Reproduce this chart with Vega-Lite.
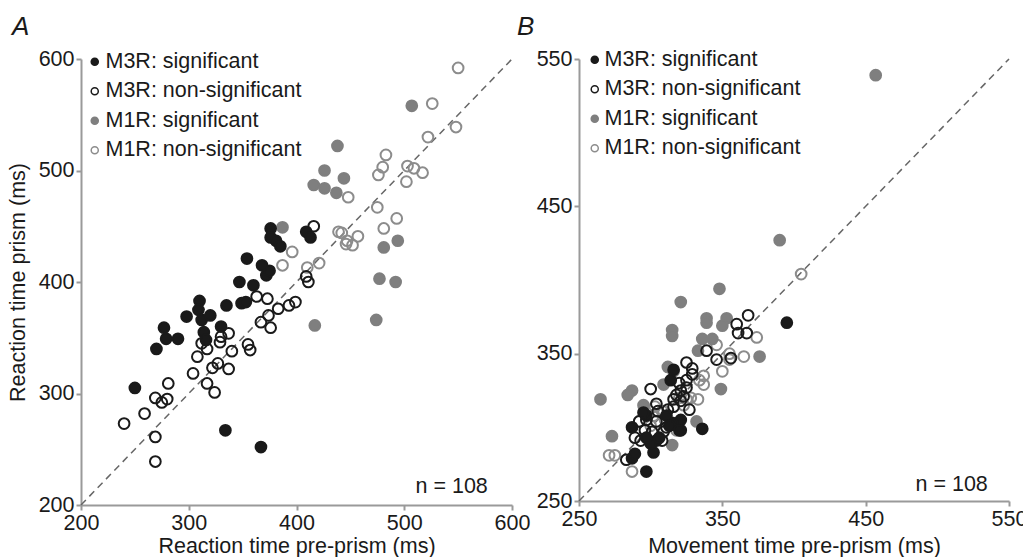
{
  "$schema": "https://vega.github.io/schema/vega-lite/v6.json",
  "background": "white",
  "padding": {"left": 7, "top": 14, "right": 5, "bottom": 0},
  "bounds": "flush",
  "spacing": 67,
  "config": {
    "font": "Liberation Sans",
    "view": {"stroke": null},
    "axis": {"domainColor": "#9a9a9a", "domainWidth": 2, "tickColor": "#9a9a9a", "tickWidth": 2, "tickSize": 5, "labelFontSize": 21.5, "labelColor": "#1a1a1a", "titleFontSize": 21.5, "titleFontWeight": "normal", "titleColor": "#1a1a1a", "grid": false, "labelPadding": 2, "labelFlush": false, "labelOverlap": false},
    "legend": {"orient": "none", "padding": 0, "labelFontSize": 21.5, "labelColor": "#1a1a1a", "labelLimit": 600, "symbolSize": 50, "symbolStrokeWidth": 1.5, "rowPadding": 6.5, "title": null},
    "title": {"anchor": "start", "fontSize": 26, "fontStyle": "italic", "fontWeight": "normal", "color": "#1a1a1a", "frame": "group"}
  },
  "datasets": {
    "A": [
      {"x": 550, "y": 592, "g": "M1R: non-significant"},
      {"x": 526, "y": 560, "g": "M1R: non-significant"},
      {"x": 548, "y": 539, "g": "M1R: non-significant"},
      {"x": 522, "y": 530, "g": "M1R: non-significant"},
      {"x": 483, "y": 514, "g": "M1R: non-significant"},
      {"x": 480, "y": 503, "g": "M1R: non-significant"},
      {"x": 476, "y": 496, "g": "M1R: non-significant"},
      {"x": 503, "y": 504, "g": "M1R: non-significant"},
      {"x": 509, "y": 502, "g": "M1R: non-significant"},
      {"x": 517, "y": 498, "g": "M1R: non-significant"},
      {"x": 502, "y": 490, "g": "M1R: non-significant"},
      {"x": 448, "y": 476, "g": "M1R: non-significant"},
      {"x": 475, "y": 467, "g": "M1R: non-significant"},
      {"x": 493, "y": 457, "g": "M1R: non-significant"},
      {"x": 481, "y": 448, "g": "M1R: non-significant"},
      {"x": 439, "y": 445, "g": "M1R: non-significant"},
      {"x": 442, "y": 444, "g": "M1R: non-significant"},
      {"x": 447, "y": 437, "g": "M1R: non-significant"},
      {"x": 452, "y": 433, "g": "M1R: non-significant"},
      {"x": 457, "y": 441, "g": "M1R: non-significant"},
      {"x": 446, "y": 434, "g": "M1R: non-significant"},
      {"x": 396, "y": 427, "g": "M1R: non-significant"},
      {"x": 387, "y": 415, "g": "M1R: non-significant"},
      {"x": 421, "y": 417, "g": "M1R: non-significant"},
      {"x": 410, "y": 413, "g": "M1R: non-significant"},
      {"x": 438, "y": 522, "g": "M1R: significant"},
      {"x": 426, "y": 500, "g": "M1R: significant"},
      {"x": 444, "y": 493, "g": "M1R: significant"},
      {"x": 416, "y": 487, "g": "M1R: significant"},
      {"x": 426, "y": 484, "g": "M1R: significant"},
      {"x": 437, "y": 480, "g": "M1R: significant"},
      {"x": 387, "y": 449, "g": "M1R: significant"},
      {"x": 507, "y": 558, "g": "M1R: significant"},
      {"x": 481, "y": 431, "g": "M1R: significant"},
      {"x": 494, "y": 437, "g": "M1R: significant"},
      {"x": 477, "y": 403, "g": "M1R: significant"},
      {"x": 492, "y": 400, "g": "M1R: significant"},
      {"x": 474, "y": 366, "g": "M1R: significant"},
      {"x": 417, "y": 361, "g": "M1R: significant"},
      {"x": 240, "y": 273, "g": "M3R: non-significant"},
      {"x": 259, "y": 282, "g": "M3R: non-significant"},
      {"x": 269, "y": 261, "g": "M3R: non-significant"},
      {"x": 269, "y": 239, "g": "M3R: non-significant"},
      {"x": 269, "y": 296, "g": "M3R: non-significant"},
      {"x": 275, "y": 292, "g": "M3R: non-significant"},
      {"x": 280, "y": 295, "g": "M3R: non-significant"},
      {"x": 281, "y": 309, "g": "M3R: non-significant"},
      {"x": 304, "y": 318, "g": "M3R: non-significant"},
      {"x": 308, "y": 333, "g": "M3R: non-significant"},
      {"x": 317, "y": 309, "g": "M3R: non-significant"},
      {"x": 317, "y": 340, "g": "M3R: non-significant"},
      {"x": 324, "y": 301, "g": "M3R: non-significant"},
      {"x": 322, "y": 323, "g": "M3R: non-significant"},
      {"x": 327, "y": 327, "g": "M3R: non-significant"},
      {"x": 337, "y": 322, "g": "M3R: non-significant"},
      {"x": 329, "y": 346, "g": "M3R: non-significant"},
      {"x": 337, "y": 354, "g": "M3R: non-significant"},
      {"x": 340, "y": 338, "g": "M3R: non-significant"},
      {"x": 355, "y": 344, "g": "M3R: non-significant"},
      {"x": 357, "y": 339, "g": "M3R: non-significant"},
      {"x": 363, "y": 387, "g": "M3R: non-significant"},
      {"x": 367, "y": 364, "g": "M3R: non-significant"},
      {"x": 373, "y": 385, "g": "M3R: non-significant"},
      {"x": 376, "y": 359, "g": "M3R: non-significant"},
      {"x": 374, "y": 370, "g": "M3R: non-significant"},
      {"x": 383, "y": 376, "g": "M3R: non-significant"},
      {"x": 393, "y": 379, "g": "M3R: non-significant"},
      {"x": 399, "y": 382, "g": "M3R: non-significant"},
      {"x": 409, "y": 405, "g": "M3R: non-significant"},
      {"x": 411, "y": 400, "g": "M3R: non-significant"},
      {"x": 416, "y": 450, "g": "M3R: non-significant"},
      {"x": 312, "y": 345, "g": "M3R: non-significant"},
      {"x": 330, "y": 351, "g": "M3R: non-significant"},
      {"x": 250, "y": 305, "g": "M3R: significant"},
      {"x": 270, "y": 340, "g": "M3R: significant"},
      {"x": 277, "y": 359, "g": "M3R: significant"},
      {"x": 279, "y": 349, "g": "M3R: significant"},
      {"x": 290, "y": 349, "g": "M3R: significant"},
      {"x": 298, "y": 369, "g": "M3R: significant"},
      {"x": 310, "y": 383, "g": "M3R: significant"},
      {"x": 309, "y": 375, "g": "M3R: significant"},
      {"x": 312, "y": 366, "g": "M3R: significant"},
      {"x": 320, "y": 370, "g": "M3R: significant"},
      {"x": 314, "y": 355, "g": "M3R: significant"},
      {"x": 316, "y": 348, "g": "M3R: significant"},
      {"x": 330, "y": 360, "g": "M3R: significant"},
      {"x": 334, "y": 267, "g": "M3R: significant"},
      {"x": 335, "y": 379, "g": "M3R: significant"},
      {"x": 347, "y": 400, "g": "M3R: significant"},
      {"x": 349, "y": 381, "g": "M3R: significant"},
      {"x": 353, "y": 382, "g": "M3R: significant"},
      {"x": 360, "y": 397, "g": "M3R: significant"},
      {"x": 367, "y": 252, "g": "M3R: significant"},
      {"x": 372, "y": 406, "g": "M3R: significant"},
      {"x": 375, "y": 410, "g": "M3R: significant"},
      {"x": 354, "y": 421, "g": "M3R: significant"},
      {"x": 368, "y": 415, "g": "M3R: significant"},
      {"x": 376, "y": 448, "g": "M3R: significant"},
      {"x": 376, "y": 440, "g": "M3R: significant"},
      {"x": 381, "y": 437, "g": "M3R: significant"},
      {"x": 385, "y": 432, "g": "M3R: significant"},
      {"x": 409, "y": 445, "g": "M3R: significant"},
      {"x": 413, "y": 440, "g": "M3R: significant"}
    ],
    "B": [
      {"x": 405, "y": 404, "g": "M1R: non-significant"},
      {"x": 374, "y": 361, "g": "M1R: non-significant"},
      {"x": 365, "y": 348, "g": "M1R: non-significant"},
      {"x": 355, "y": 346, "g": "M1R: non-significant"},
      {"x": 355, "y": 350, "g": "M1R: non-significant"},
      {"x": 350, "y": 338, "g": "M1R: non-significant"},
      {"x": 346, "y": 356, "g": "M1R: non-significant"},
      {"x": 337, "y": 335, "g": "M1R: non-significant"},
      {"x": 337, "y": 329, "g": "M1R: non-significant"},
      {"x": 333, "y": 319, "g": "M1R: non-significant"},
      {"x": 328, "y": 320, "g": "M1R: non-significant"},
      {"x": 323, "y": 315, "g": "M1R: non-significant"},
      {"x": 308, "y": 311, "g": "M1R: non-significant"},
      {"x": 271, "y": 281, "g": "M1R: non-significant"},
      {"x": 275, "y": 281, "g": "M1R: non-significant"},
      {"x": 287, "y": 270, "g": "M1R: non-significant"},
      {"x": 292, "y": 304, "g": "M1R: non-significant"},
      {"x": 320, "y": 320, "g": "M1R: non-significant"},
      {"x": 325, "y": 319, "g": "M1R: non-significant"},
      {"x": 334, "y": 332, "g": "M1R: non-significant"},
      {"x": 309, "y": 311, "g": "M1R: non-significant"},
      {"x": 302, "y": 308, "g": "M1R: non-significant"},
      {"x": 318, "y": 298, "g": "M1R: non-significant"},
      {"x": 303, "y": 314, "g": "M1R: non-significant"},
      {"x": 310, "y": 305, "g": "M1R: non-significant"},
      {"x": 300, "y": 301, "g": "M1R: non-significant"},
      {"x": 457, "y": 539, "g": "M1R: significant"},
      {"x": 390, "y": 427, "g": "M1R: significant"},
      {"x": 348, "y": 394, "g": "M1R: significant"},
      {"x": 321, "y": 385, "g": "M1R: significant"},
      {"x": 339, "y": 374, "g": "M1R: significant"},
      {"x": 339, "y": 371, "g": "M1R: significant"},
      {"x": 353, "y": 374, "g": "M1R: significant"},
      {"x": 350, "y": 369, "g": "M1R: significant"},
      {"x": 315, "y": 366, "g": "M1R: significant"},
      {"x": 315, "y": 362, "g": "M1R: significant"},
      {"x": 336, "y": 360, "g": "M1R: significant"},
      {"x": 343, "y": 360, "g": "M1R: significant"},
      {"x": 333, "y": 352, "g": "M1R: significant"},
      {"x": 376, "y": 348, "g": "M1R: significant"},
      {"x": 312, "y": 341, "g": "M1R: significant"},
      {"x": 309, "y": 329, "g": "M1R: significant"},
      {"x": 287, "y": 325, "g": "M1R: significant"},
      {"x": 284, "y": 322, "g": "M1R: significant"},
      {"x": 265, "y": 319, "g": "M1R: significant"},
      {"x": 349, "y": 326, "g": "M1R: significant"},
      {"x": 295, "y": 315, "g": "M1R: significant"},
      {"x": 332, "y": 304, "g": "M1R: significant"},
      {"x": 273, "y": 294, "g": "M1R: significant"},
      {"x": 315, "y": 288, "g": "M1R: significant"},
      {"x": 316, "y": 338, "g": "M1R: significant"},
      {"x": 368, "y": 376, "g": "M3R: non-significant"},
      {"x": 360, "y": 370, "g": "M3R: non-significant"},
      {"x": 361, "y": 364, "g": "M3R: non-significant"},
      {"x": 367, "y": 364, "g": "M3R: non-significant"},
      {"x": 339, "y": 352, "g": "M3R: non-significant"},
      {"x": 346, "y": 346, "g": "M3R: non-significant"},
      {"x": 356, "y": 347, "g": "M3R: non-significant"},
      {"x": 325, "y": 344, "g": "M3R: non-significant"},
      {"x": 329, "y": 340, "g": "M3R: non-significant"},
      {"x": 329, "y": 336, "g": "M3R: non-significant"},
      {"x": 325, "y": 332, "g": "M3R: non-significant"},
      {"x": 325, "y": 327, "g": "M3R: non-significant"},
      {"x": 321, "y": 325, "g": "M3R: non-significant"},
      {"x": 323, "y": 321, "g": "M3R: non-significant"},
      {"x": 316, "y": 319, "g": "M3R: non-significant"},
      {"x": 300, "y": 326, "g": "M3R: non-significant"},
      {"x": 292, "y": 304, "g": "M3R: non-significant"},
      {"x": 293, "y": 291, "g": "M3R: non-significant"},
      {"x": 289, "y": 293, "g": "M3R: non-significant"},
      {"x": 283, "y": 278, "g": "M3R: non-significant"},
      {"x": 304, "y": 304, "g": "M3R: non-significant"},
      {"x": 311, "y": 300, "g": "M3R: non-significant"},
      {"x": 309, "y": 297, "g": "M3R: non-significant"},
      {"x": 304, "y": 316, "g": "M3R: non-significant"},
      {"x": 305, "y": 311, "g": "M3R: non-significant"},
      {"x": 297, "y": 305, "g": "M3R: non-significant"},
      {"x": 321, "y": 318, "g": "M3R: non-significant"},
      {"x": 316, "y": 314, "g": "M3R: non-significant"},
      {"x": 318, "y": 322, "g": "M3R: non-significant"},
      {"x": 301, "y": 297, "g": "M3R: non-significant"},
      {"x": 308, "y": 291, "g": "M3R: non-significant"},
      {"x": 312, "y": 312, "g": "M3R: non-significant"},
      {"x": 320, "y": 330, "g": "M3R: non-significant"},
      {"x": 327, "y": 312, "g": "M3R: non-significant"},
      {"x": 296, "y": 298, "g": "M3R: non-significant"},
      {"x": 395, "y": 371, "g": "M3R: significant"},
      {"x": 336, "y": 299, "g": "M3R: significant"},
      {"x": 321, "y": 298, "g": "M3R: significant"},
      {"x": 321, "y": 305, "g": "M3R: significant"},
      {"x": 314, "y": 332, "g": "M3R: significant"},
      {"x": 316, "y": 339, "g": "M3R: significant"},
      {"x": 287, "y": 300, "g": "M3R: significant"},
      {"x": 287, "y": 279, "g": "M3R: significant"},
      {"x": 289, "y": 282, "g": "M3R: significant"},
      {"x": 297, "y": 270, "g": "M3R: significant"},
      {"x": 302, "y": 283, "g": "M3R: significant"},
      {"x": 304, "y": 291, "g": "M3R: significant"},
      {"x": 300, "y": 289, "g": "M3R: significant"},
      {"x": 297, "y": 308, "g": "M3R: significant"},
      {"x": 315, "y": 303, "g": "M3R: significant"},
      {"x": 297, "y": 293, "g": "M3R: significant"},
      {"x": 295, "y": 310, "g": "M3R: significant"},
      {"x": 311, "y": 308, "g": "M3R: significant"},
      {"x": 306, "y": 293, "g": "M3R: significant"},
      {"x": 313, "y": 301, "g": "M3R: significant"},
      {"x": 320, "y": 298, "g": "M3R: significant"}
    ]
  },
  "resolve": {
    "scale": {"fill": "independent", "stroke": "independent", "x": "independent", "y": "independent"},
    "legend": {"fill": "independent", "stroke": "independent"}
  },
  "hconcat": [
    {
      "width": 431,
      "height": 446,
      "title": {"text": "A", "dx": -69, "offset": 8},
      "encoding": {
        "x": {"field": "x", "type": "quantitative", "scale": {"domain": [200, 600], "zero": false, "nice": false}, "axis": {"title": "Reaction time pre-prism (ms)", "values": [200, 300, 400, 500, 600], "titlePadding": 2}},
        "y": {"field": "y", "type": "quantitative", "scale": {"domain": [200, 600], "zero": false, "nice": false}, "axis": {"title": "Reaction time prism (ms)", "values": [200, 300, 400, 500, 600], "titlePadding": 9}}
      },
      "layer": [
        {
          "data": {"values": [{"x": 200, "y": 200}, {"x": 600, "y": 600}]},
          "mark": {"type": "line", "color": "#666666", "strokeDash": [7, 5], "strokeWidth": 1.5}
        },
        {
          "data": {"name": "A"},
          "mark": {"type": "point", "shape": "circle", "filled": true, "size": 115, "strokeWidth": 2, "opacity": 1},
          "encoding": {
            "fill": {"field": "g", "type": "nominal", "scale": {"domain": ["M3R: significant", "M3R: non-significant", "M1R: significant", "M1R: non-significant"], "range": ["#1a1a1a", "transparent", "#7f7f7f", "transparent"]}, "legend": {"legendX": 3, "legendY": -8, "labelOffset": 0}},
            "stroke": {"field": "g", "type": "nominal", "scale": {"domain": ["M3R: significant", "M3R: non-significant", "M1R: significant", "M1R: non-significant"], "range": ["#1a1a1a", "#1a1a1a", "#7f7f7f", "#8c8c8c"]}, "legend": {"legendX": 3, "legendY": -8, "labelOffset": 0}}
          }
        },
        {
          "data": {"values": [{"x": 544, "y": 216, "t": "n = 108"}]},
          "mark": {"type": "text", "fontSize": 21.5, "color": "#1a1a1a", "baseline": "middle", "align": "center"},
          "encoding": {"text": {"field": "t", "type": "nominal"}}
        }
      ]
    },
    {
      "width": 430,
      "height": 442,
      "title": {"text": "B", "dx": -62, "offset": 8},
      "encoding": {
        "x": {"field": "x", "type": "quantitative", "scale": {"domain": [250, 550], "zero": false, "nice": false}, "axis": {"title": "Movement time pre-prism (ms)", "values": [250, 350, 450, 550], "titlePadding": 6}},
        "y": {"field": "y", "type": "quantitative", "scale": {"domain": [250, 550], "zero": false, "nice": false}, "axis": {"title": null, "values": [250, 350, 450, 550]}}
      },
      "layer": [
        {
          "data": {"values": [{"x": 250, "y": 250}, {"x": 550, "y": 550}]},
          "mark": {"type": "line", "color": "#666666", "strokeDash": [7, 5], "strokeWidth": 1.5}
        },
        {
          "data": {"name": "B"},
          "mark": {"type": "point", "shape": "circle", "filled": true, "size": 115, "strokeWidth": 2, "opacity": 1},
          "encoding": {
            "fill": {"field": "g", "type": "nominal", "scale": {"domain": ["M3R: significant", "M3R: non-significant", "M1R: significant", "M1R: non-significant"], "range": ["#1a1a1a", "transparent", "#7f7f7f", "transparent"]}, "legend": {"legendX": 5, "legendY": -10, "labelOffset": -1}},
            "stroke": {"field": "g", "type": "nominal", "scale": {"domain": ["M3R: significant", "M3R: non-significant", "M1R: significant", "M1R: non-significant"], "range": ["#1a1a1a", "#1a1a1a", "#7f7f7f", "#8c8c8c"]}, "legend": {"legendX": 5, "legendY": -10, "labelOffset": -1}}
          }
        },
        {
          "data": {"values": [{"x": 510, "y": 261, "t": "n = 108"}]},
          "mark": {"type": "text", "fontSize": 21.5, "color": "#1a1a1a", "baseline": "middle", "align": "center"},
          "encoding": {"text": {"field": "t", "type": "nominal"}}
        }
      ]
    }
  ]
}
